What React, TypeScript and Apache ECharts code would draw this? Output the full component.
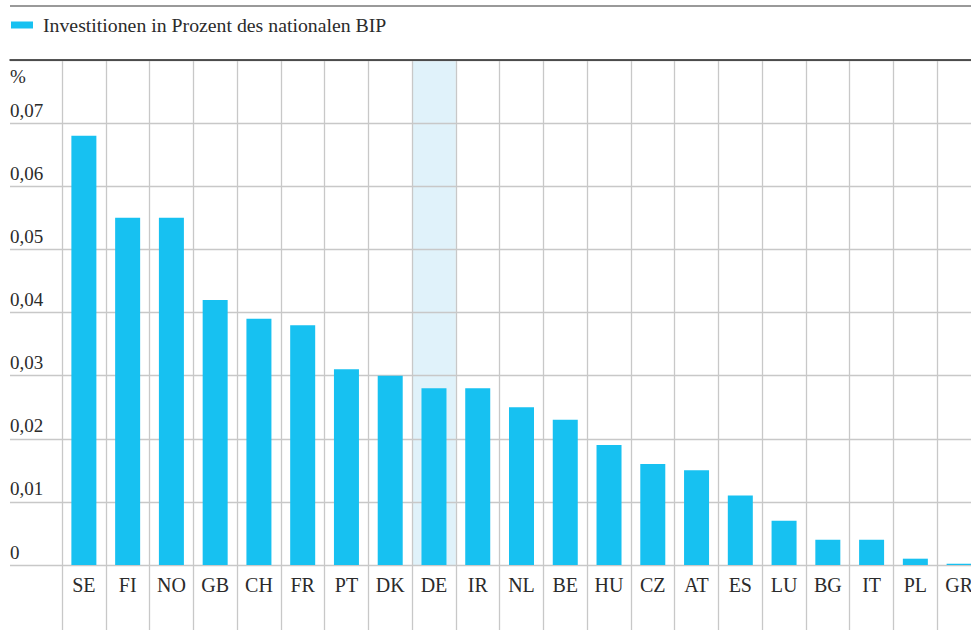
import React, { useEffect, useRef } from "react";
import * as echarts from "echarts";

const categories = ["SE","FI","NO","GB","CH","FR","PT","DK","DE","IR","NL","BE","HU","CZ","AT","ES","LU","BG","IT","PL","GR"];
const values = [0.068,0.055,0.055,0.042,0.039,0.038,0.031,0.030,0.028,0.028,0.025,0.023,0.019,0.016,0.015,0.011,0.007,0.004,0.004,0.001,0.0002];
const highlighted = ["DE"];
const seriesName = "Investitionen in Prozent des nationalen BIP";
const yMin = 0;
const yMax = 0.08;
const yStep = 0.01;

const FONT = "Liberation Serif";
const TEXT = "#2b2b2b";
const GRID = "#c8c8c8";

export default function App() {
  const ref = useRef<HTMLDivElement>(null);
  useEffect(() => {
    if (!ref.current) return;
    const chart = echarts.init(ref.current, undefined, { renderer: "svg" });
    const highlightData = categories.map((c) => (highlighted.includes(c) ? yMax : null));
    chart.setOption({
      animation: false,
      textStyle: { fontFamily: FONT },
      legend: {
        data: [seriesName],
        left: 11,
        top: 14,
        padding: 0,
        icon: "rect",
        itemWidth: 22,
        itemHeight: 7,
        textStyle: { fontFamily: FONT, fontSize: 19.8, color: TEXT, lineHeight: 22, padding: [0, 0, 0, 5] },
      },
      graphic: [
        {
          type: "line",
          shape: { x1: 10, y1: 6, x2: 971, y2: 6 },
          style: { stroke: "#777", lineWidth: 1.3 },
        },
      ],
      grid: [
        { left: 10, right: 0, top: 60, bottom: 65, outerBoundsMode: "none" },
        { left: 62, width: 919, top: 60, bottom: 65, outerBoundsMode: "none" },
      ],
      xAxis: [
        {
          gridIndex: 0,
          type: "value",
          position: "top",
          min: 0,
          max: 1,
          axisLine: { show: true, onZero: false, lineStyle: { color: "#222", width: 1.5 } },
          axisTick: { show: false },
          axisLabel: { show: false },
          splitLine: { show: false },
        },
        {
          gridIndex: 1,
          type: "category",
          data: categories,
          axisLine: { show: false },
          axisTick: { show: true, length: 66, lineStyle: { color: GRID, width: 1.3 } },
          axisLabel: { fontFamily: FONT, fontSize: 20, color: TEXT, margin: 10, interval: 0 },
          splitLine: { show: true, lineStyle: { color: GRID, width: 1.3 } },
        },
        {
          gridIndex: 1,
          type: "category",
          data: categories,
          show: false,
        },
      ],
      yAxis: [
        {
          gridIndex: 0,
          type: "value",
          min: yMin,
          max: yMax,
          interval: yStep,
          name: "%",
          nameLocation: "end",
          nameGap: -7,
          nameTextStyle: { fontFamily: FONT, fontSize: 19, color: TEXT, align: "left", verticalAlign: "top" },
          axisLine: { show: false },
          axisTick: { show: false },
          axisLabel: {
            inside: true,
            margin: 0,
            showMaxLabel: false,
            align: "left",
            verticalAlign: "bottom",
            lineHeight: 26,
            fontFamily: FONT,
            fontSize: 19,
            color: TEXT,
            formatter: (v: number) => (v === 0 ? "0" : v.toFixed(2).replace(".", ",")),
          },
          splitLine: { show: true, lineStyle: { color: GRID, width: 1.3 } },
        },
        {
          gridIndex: 1,
          type: "value",
          min: yMin,
          max: yMax,
          interval: yStep,
          show: false,
          splitLine: { show: false },
        },
      ],
      series: [
        {
          name: "highlight",
          type: "bar",
          xAxisIndex: 2,
          yAxisIndex: 1,
          data: highlightData,
          barWidth: "100%",
          z: -1,
          itemStyle: { color: "#e0f2fa" },
          silent: true,
        },
        {
          name: seriesName,
          type: "bar",
          xAxisIndex: 1,
          yAxisIndex: 1,
          data: values,
          barWidth: 25,
          z: 3,
          itemStyle: { color: "#17c1f1" },
        },
      ],
    });
    return () => chart.dispose();
  }, []);
  return (
    <div
      ref={ref}
      style={{ position: "absolute", left: 0, top: 0, width: 971, height: 630, background: "#fff" }}
    />
  );
}
